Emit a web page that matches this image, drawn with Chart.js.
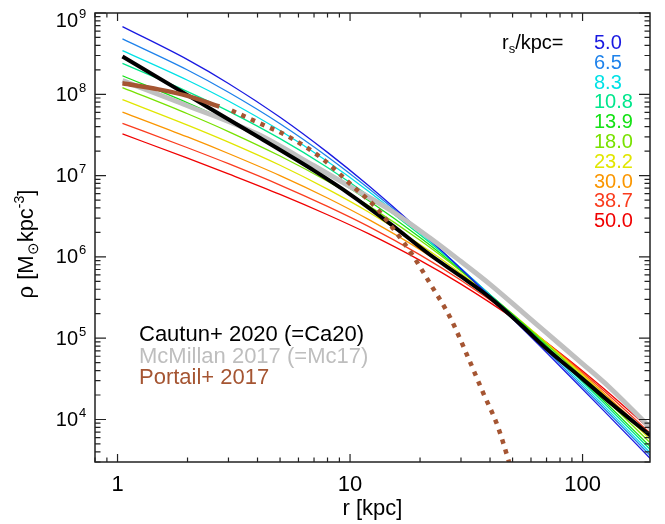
<!DOCTYPE html>
<html lang="en">
<head>
<meta charset="UTF-8" />
<title>Halo density profiles</title>
<script src="https://cdn.jsdelivr.net/npm/chart.js"></script>
<style>
  body { margin: 0; background: #fff; }
  .wrap { position: relative; width: 665px; height: 524px; }
</style>
</head>
<body>
<div class="wrap"><canvas id="profiles"></canvas></div>
<script>
  const nfwR = [1.05, 2, 3, 5, 8, 12, 20, 30, 50, 80, 120, 200];

  const rsLabels = ["5.0", "6.5", "8.3", "10.8", "13.9", "18.0", "23.2", "30.0", "38.7", "50.0"];
  const rsColors = [
    "rgb(25,25,225)", "rgb(30,130,235)", "rgb(0,225,230)", "rgb(0,230,140)", "rgb(20,225,20)",
    "rgb(120,225,0)", "rgb(225,230,0)", "rgb(250,150,0)", "rgb(250,60,30)", "rgb(240,0,0)",
  ];

  // density [Msun/kpc^3] for each r_s
  const rho_rs5_0 = [6.8e8, 2.67e8, 1.36e8, 5.22e7, 1.93e7, 7.53e6, 2.09e6, 7.11e5, 1.73e5, 4.52e4, 1.39e4, 3.10e3];
  const rho_rs6_5 = [4.8e8, 1.99e8, 1.06e8, 4.35e7, 1.71e7, 6.99e6, 2.05e6, 7.19e5, 1.80e5, 4.80e4, 1.50e4, 3.37e3];
  const rho_rs8_3 = [3.45e8, 1.49e8, 8.27e7, 3.58e7, 1.49e7, 6.41e6, 1.98e6, 7.20e5, 1.86e5, 5.08e4, 1.60e4, 3.65e3];
  const rho_rs10_8 = [2.4e8, 1.08e8, 6.22e7, 2.85e7, 1.26e7, 5.69e6, 1.87e6, 7.11e5, 1.92e5, 5.39e4, 1.73e4, 4.00e3];
  const rho_rs13_9 = [1.69e8, 7.85e7, 4.63e7, 2.22e7, 1.03e7, 4.93e6, 1.73e6, 6.86e5, 1.94e5, 5.63e4, 1.84e4, 4.34e3];
  const rho_rs18_0 = [1.21e8, 5.76e7, 3.48e7, 1.74e7, 8.52e6, 4.27e6, 1.60e6, 6.67e5, 1.99e5, 6.00e4, 2.02e4, 4.85e3];
  const rho_rs23_2 = [8.6e7, 4.18e7, 2.58e7, 1.34e7, 6.82e6, 3.57e6, 1.42e6, 6.26e5, 1.98e5, 6.23e4, 2.16e4, 5.33e3];
  const rho_rs30_0 = [6.05e7, 2.99e7, 1.87e7, 1.00e7, 5.30e6, 2.89e6, 1.23e6, 5.67e5, 1.91e5, 6.33e4, 2.27e4, 5.79e3];
  const rho_rs38_7 = [4.4e7, 2.20e7, 1.40e7, 7.65e6, 4.18e6, 2.37e6, 1.06e6, 5.16e5, 1.86e5, 6.48e4, 2.42e4, 6.41e3];
  const rho_rs50_0 = [3.25e7, 1.64e7, 1.05e7, 5.88e6, 3.30e6, 1.93e6, 9.07e5, 4.63e5, 1.78e5, 6.57e4, 2.56e4, 7.11e3];
  const nfwRho = [rho_rs5_0, rho_rs6_5, rho_rs8_3, rho_rs10_8, rho_rs13_9,
                  rho_rs18_0, rho_rs23_2, rho_rs30_0, rho_rs38_7, rho_rs50_0];

  // Cautun+ 2020 and McMillan 2017
  const modelR = [1.05, 2, 4, 7, 10, 15, 22, 30, 40, 55, 70, 100, 130, 200];
  const rhoCa20 = [2.91e8, 9.77e7, 3.02e7, 1.15e7, 5.89e6, 2.51e6, 1.07e6, 5.75e5, 3.16e5, 1.41e5, 7.41e4, 3.16e4, 1.66e4, 6.03e3];
  const rhoMc17 = [1.47e8, 7.24e7, 3.24e7, 1.32e7, 7.33e6, 3.72e6, 1.72e6, 8.77e5, 4.60e5, 2.11e5, 1.16e5, 4.84e4, 2.51e4, 7.41e3];

  // Portail+ 2017: fitted part (solid) and extrapolation (dotted)
  const portailR = [1.05, 1.5, 2, 2.74];
  const rhoPortail = [1.37e8, 1.15e8, 9.55e7, 7.08e7];
  const portailExtR = [3.1, 4, 5.43, 7.63, 10, 13, 15.4, 18.7, 22, 27, 32, 37.6, 43, 48, 52];
  const rhoPortailExt = [6.31e7, 4.52e7, 3.02e7, 1.60e7, 7.94e6, 3.98e6, 2.19e6, 1.02e6, 4.79e5, 1.78e5, 6.03e4, 2.04e4, 8.51e3, 3.16e3, 1.41e3];

  const xTickValues = [1, 10, 100];
  const xTickLabels = ["1", "10", "100"];
  const yTickExponents = [4, 5, 6, 7, 8, 9];

  const legendNames = ["Cautun+ 2020 (=Ca20)", "McMillan 2017 (=Mc17)", "Portail+ 2017"];
  const BROWN = "rgb(165,85,50)";
  const GRAY = "rgb(192,192,192)";
  const FONT = '"Liberation Sans", Arial, sans-serif';

  const pts = (xs, ys) => xs.map((v, i) => ({ x: v, y: ys[i] }));

  const datasets = nfwRho.map((ys, i) => ({
    label: "rs=" + rsLabels[i],
    data: pts(nfwR, ys),
    borderColor: rsColors[i],
    borderWidth: 1.3,
    order: 10,
  }));
  datasets.push(
    { label: legendNames[1], data: pts(modelR, rhoMc17), borderColor: GRAY, borderWidth: 5, order: 3 },
    { label: legendNames[0], data: pts(modelR, rhoCa20), borderColor: "#000", borderWidth: 4, order: 2 },
    { label: legendNames[2], data: pts(portailR, rhoPortail), borderColor: BROWN, borderWidth: 4.5, order: 1 },
    { label: legendNames[2] + " extrap.", data: pts(portailExtR, rhoPortailExt), borderColor: BROWN,
      borderWidth: 4.5, borderDash: [4.5, 6], borderCapStyle: "butt", order: 1 }
  );

  // IDL style frame: inward ticks on all four sides, labels and annotations
  const frame = {
    id: "frame",
    afterDraw(chart) {
      const { ctx, chartArea: a } = chart;
      const sx = chart.scales.x, sy = chart.scales.y;
      ctx.save();
      ctx.strokeStyle = "#222";
      ctx.lineWidth = 1.5;
      ctx.strokeRect(a.left, a.top, a.right - a.left, a.bottom - a.top);

      ctx.lineWidth = 1.2;
      ctx.beginPath();
      for (let d = -1; d <= 2; d++) {
        for (let m = 1; m <= 9; m++) {
          const v = m * Math.pow(10, d);
          if (v < sx.min || v > sx.max) continue;
          const px = sx.getPixelForValue(v), len = m === 1 ? 8 : 4.5;
          ctx.moveTo(px, a.bottom); ctx.lineTo(px, a.bottom - len);
          ctx.moveTo(px, a.top); ctx.lineTo(px, a.top + len);
        }
      }
      for (let d = 3; d <= 9; d++) {
        for (let m = 1; m <= 9; m++) {
          const v = m * Math.pow(10, d);
          if (v < sy.min || v > sy.max) continue;
          const py = sy.getPixelForValue(v), len = m === 1 ? 11 : 5.5;
          ctx.moveTo(a.left, py); ctx.lineTo(a.left + len, py);
          ctx.moveTo(a.right, py); ctx.lineTo(a.right - len, py);
        }
      }
      ctx.stroke();

      ctx.fillStyle = "#000";
      ctx.textBaseline = "middle";
      ctx.textAlign = "center";
      ctx.font = "22px " + FONT;
      xTickValues.forEach((v, i) => ctx.fillText(xTickLabels[i], sx.getPixelForValue(v), 485));
      ctx.fillText("r [kpc]", (a.left + a.right) / 2, 509);

      yTickExponents.forEach((e) => {
        const py = Math.max(sy.getPixelForValue(Math.pow(10, e)), a.top + 7.5);
        ctx.textAlign = "right";
        ctx.font = "20px " + FONT;
        ctx.fillText("10", 78, py + 1);
        ctx.textAlign = "left";
        ctx.font = "13px " + FONT;
        ctx.fillText(String(e), 79, py - 6);
      });

      // y title, rotated
      ctx.save();
      ctx.translate(33, 244);
      ctx.rotate(-Math.PI / 2);
      ctx.textBaseline = "alphabetic";
      ctx.textAlign = "left";
      const parts = [
        ["ρ [M", 22, 0], ["⊙", 15, 5], ["kpc", 22, 0], ["-3", 14, -9], ["]", 22, 0],
      ];
      let total = 0;
      parts.forEach(([t, s]) => { ctx.font = s + "px " + FONT; total += ctx.measureText(t).width; });
      let cx = -total / 2;
      parts.forEach(([t, s, dy]) => {
        ctx.font = s + "px " + FONT;
        ctx.fillText(t, cx, dy);
        cx += ctx.measureText(t).width;
      });
      ctx.restore();

      // r_s key
      ctx.textAlign = "left";
      ctx.textBaseline = "middle";
      ctx.fillStyle = "#000";
      ctx.font = "20px " + FONT;
      let kx = 502;
      ctx.fillText("r", kx, 43);
      kx += ctx.measureText("r").width;
      ctx.font = "13px " + FONT;
      ctx.fillText("s", kx, 49);
      kx += ctx.measureText("s").width;
      ctx.font = "20px " + FONT;
      ctx.fillText("/kpc=", kx, 43);
      rsLabels.forEach((t, i) => {
        ctx.fillStyle = rsColors[i];
        ctx.fillText(t, 594, 43.5 + 19.8 * i);
      });

      // model legend
      ctx.font = "22px " + FONT;
      const legendColors = ["#000", "rgb(190,190,190)", BROWN];
      legendNames.forEach((t, i) => {
        ctx.fillStyle = legendColors[i];
        ctx.fillText(t, 139, 335 + 21.7 * i);
      });
      ctx.restore();
    },
  };

  new Chart(document.getElementById("profiles"), {
    type: "line",
    data: { datasets },
    options: {
      responsive: true,
      maintainAspectRatio: false,
      animation: false,
      layout: { padding: { left: 95, right: 15, top: 13, bottom: 62 } },
      elements: {
        point: { radius: 0 },
        line: { cubicInterpolationMode: "monotone", fill: false },
      },
      plugins: { legend: { display: false }, tooltip: { enabled: false } },
      scales: {
        x: { type: "logarithmic", min: 0.8, max: 195, display: false },
        y: { type: "logarithmic", min: 3000, max: 1e9, display: false },
      },
    },
    plugins: [frame],
  });
</script>
</body>
</html>
